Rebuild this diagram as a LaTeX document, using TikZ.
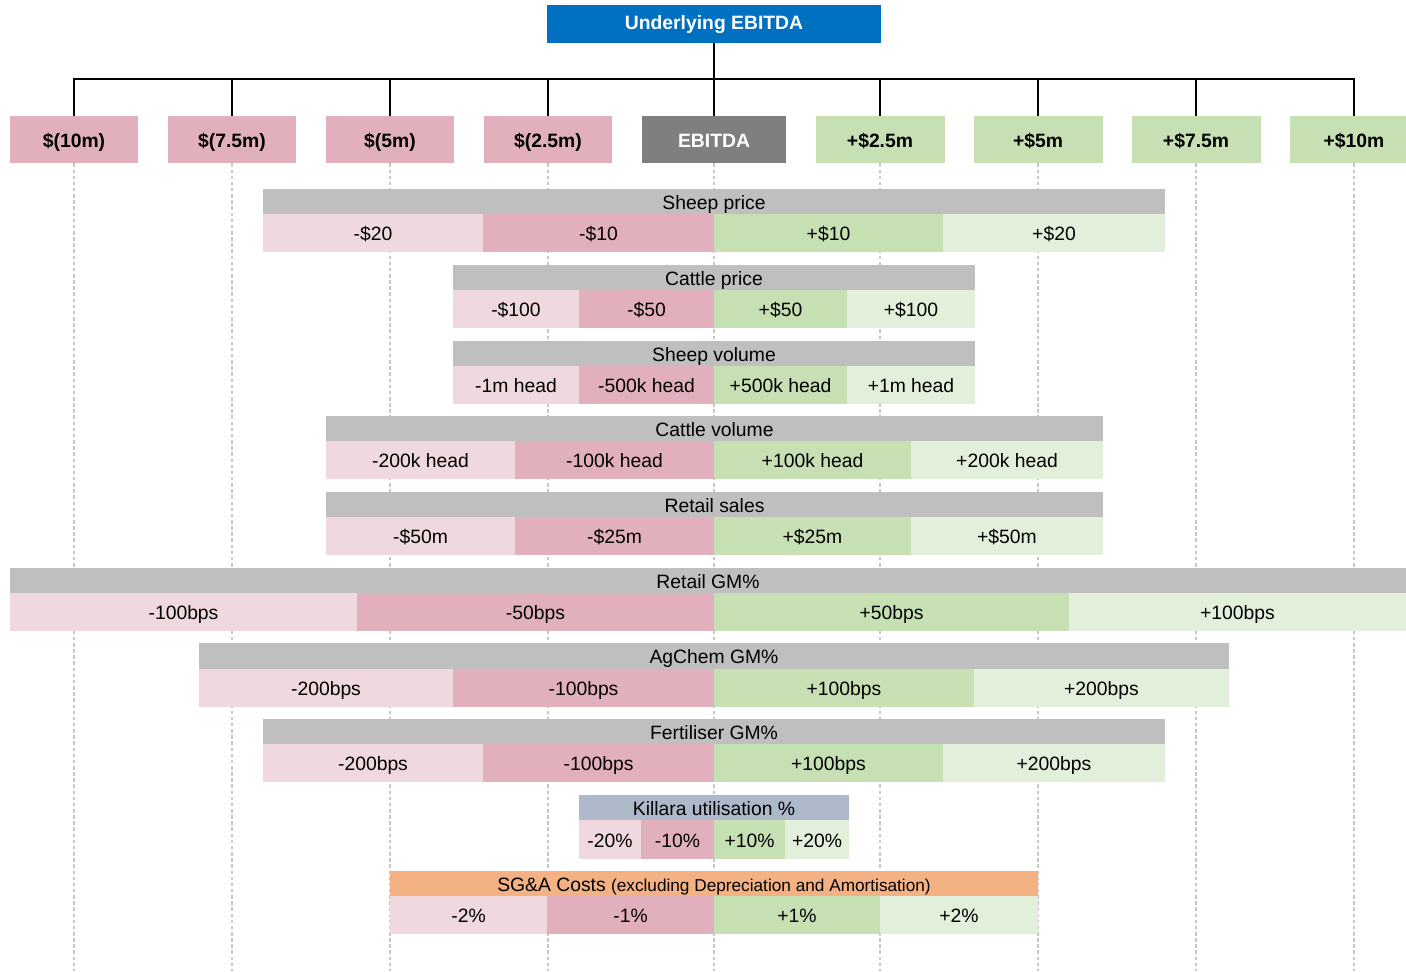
\documentclass[tikz,border=0pt]{standalone}
\usepackage{fontspec}
\setmainfont{Liberation Sans}
\usetikzlibrary{calc}
\definecolor{ebblue}{HTML}{0070C0}
\definecolor{midgrey}{HTML}{7F7F7F}
\definecolor{hdrgrey}{HTML}{BFBFBF}
\definecolor{pk}{HTML}{E2AFBD}
\definecolor{lpk}{HTML}{F0D8DF}
\definecolor{gn}{HTML}{C6E0B4}
\definecolor{lgn}{HTML}{E2EFDA}
\definecolor{slate}{HTML}{ADB9CA}
\definecolor{peach}{HTML}{F4B183}
% one filled cell of a sensitivity bar: name, fill, x0, x1, y0, y1, text (pixel units)
\newcommand{\cellbox}[7]{%
  \node[cell,fill=#2,minimum width={((#4)-(#3))*0.02cm},minimum height={((#6)-(#5))*0.02cm}]
    (#1) at ({((#3)+(#4))/2},{((#5)+(#6))/2}) {#7};}

\begin{document}
\begin{tikzpicture}[x=0.02cm,y=-0.02cm,
    font=\fontsize{11}{13}\selectfont,
    cell/.style={inner sep=0pt,outer sep=0pt,text height=1em,text depth=0.1em},
    lvl/.style={inner sep=0pt,minimum width=2.58cm,minimum height=0.94cm,text height=1em,text depth=0.1em,font=\fontsize{11}{13}\selectfont\bfseries},
    tree/.style={line width=1.1pt},
    guide/.style={draw=gray!45,line width=0.6pt,dash pattern=on 2pt off 1.5pt}]
  \useasboundingbox (0,0) rectangle (1406,971);
  \node[lvl,fill=ebblue,text=white,minimum width=6.68cm,minimum height=0.76cm,text height=0.8em,text depth=0.12em] (title) at (714,24) {Underlying EBITDA};
  \foreach \n/\x/\t in {m10/74/{\$(10m)},m75/232/{\$(7.5m)},m5/390/{\$(5m)},m25/548/{\$(2.5m)}}
    \node[lvl,fill=pk] (\n) at (\x,139.5) {\t};
  \node[lvl,fill=midgrey,text=white,minimum width=2.9cm] (ebitda) at (714,139.5) {EBITDA};
  \foreach \n/\x/\t in {p25/880/{+\$2.5m},p5/1038/{+\$5m},p75/1196/{+\$7.5m},p10/1354/{+\$10m}}
    \node[lvl,fill=gn] (\n) at (\x,139.5) {\t};
  \coordinate (bus) at (714,79);
  \coordinate (floor) at (0,971);
  \foreach \n in {m10,m75,m5,m25,ebitda,p25,p5,p75,p10} {
    \draw[tree] (title.south) -- (bus) -| (\n.north);
    \draw[guide] (\n.south) -- (\n.south |- floor);
  }

  % Sheep price
  \cellbox{sheepH}{hdrgrey}{263}{1165}{189}{214}{Sheep price}
  \foreach \a/\b/\c/\t [count=\i] in {263/483/lpk/{-\$20},483/714/pk/{-\$10},714/943/gn/{+\$10},943/1165/lgn/{+\$20}}
    {\cellbox{sheep\i}{\c}{\a}{\b}{214}{252}{\t}}
  % Cattle price
  \cellbox{cattleH}{hdrgrey}{453}{975}{265}{290}{Cattle price}
  \foreach \a/\b/\c/\t [count=\i] in {453/579/lpk/{-\$100},579/714/pk/{-\$50},714/847/gn/{+\$50},847/975/lgn/{+\$100}}
    {\cellbox{cattle\i}{\c}{\a}{\b}{290}{328}{\t}}
  % Sheep volume
  \cellbox{svolH}{hdrgrey}{453}{975}{341}{366}{Sheep volume}
  \foreach \a/\b/\c/\t [count=\i] in {453/579/lpk/{-1m head},579/714/pk/{-500k head},714/847/gn/{+500k head},847/975/lgn/{+1m head}}
    {\cellbox{svol\i}{\c}{\a}{\b}{366}{404}{\t}}
  % Cattle volume
  \cellbox{cvolH}{hdrgrey}{326}{1103}{416}{441}{Cattle volume}
  \foreach \a/\b/\c/\t [count=\i] in {326/515/lpk/{-200k head},515/714/pk/{-100k head},714/911/gn/{+100k head},911/1103/lgn/{+200k head}}
    {\cellbox{cvol\i}{\c}{\a}{\b}{441}{479}{\t}}
  % Retail sales
  \cellbox{rsalesH}{hdrgrey}{326}{1103}{492}{517}{Retail sales}
  \foreach \a/\b/\c/\t [count=\i] in {326/515/lpk/{-\$50m},515/714/pk/{-\$25m},714/911/gn/{+\$25m},911/1103/lgn/{+\$50m}}
    {\cellbox{rsales\i}{\c}{\a}{\b}{517}{555}{\t}}
  % Retail GM%
  \cellbox{rgmH}{hdrgrey}{10}{1406}{568}{593}{Retail GM\%}
  \foreach \a/\b/\c/\t [count=\i] in {10/357/lpk/{-100bps},357/714/pk/{-50bps},714/1069/gn/{+50bps},1069/1406/lgn/{+100bps}}
    {\cellbox{rgm\i}{\c}{\a}{\b}{593}{631}{\t}}
  % AgChem GM%
  \cellbox{agchemH}{hdrgrey}{199}{1229}{643}{669}{AgChem GM\%}
  \foreach \a/\b/\c/\t [count=\i] in {199/453/lpk/{-200bps},453/714/pk/{-100bps},714/974/gn/{+100bps},974/1229/lgn/{+200bps}}
    {\cellbox{agchem\i}{\c}{\a}{\b}{669}{707}{\t}}
  % Fertiliser GM%
  \cellbox{fertH}{hdrgrey}{263}{1165}{719}{744}{Fertiliser GM\%}
  \foreach \a/\b/\c/\t [count=\i] in {263/483/lpk/{-200bps},483/714/pk/{-100bps},714/943/gn/{+100bps},943/1165/lgn/{+200bps}}
    {\cellbox{fert\i}{\c}{\a}{\b}{744}{782}{\t}}
  % Killara utilisation
  \cellbox{killH}{slate}{579}{849}{795}{820}{Killara utilisation \%}
  \foreach \a/\b/\c/\t [count=\i] in {579/641/lpk/{-20\%},641/714/pk/{-10\%},714/785/gn/{+10\%},785/849/lgn/{+20\%}}
    {\cellbox{kill\i}{\c}{\a}{\b}{820}{859}{\t}}
  % SG&A costs
  \cellbox{sgaH}{peach}{390}{1038}{871}{896}{SG\&A Costs {\fontsize{9.8}{11}\selectfont(excluding Depreciation and Amortisation)}}
  \foreach \a/\b/\c/\t [count=\i] in {390/547/lpk/{-2\%},547/714/pk/{-1\%},714/880/gn/{+1\%},880/1038/lgn/{+2\%}}
    {\cellbox{sga\i}{\c}{\a}{\b}{896}{934}{\t}}
\end{tikzpicture}
\end{document}
